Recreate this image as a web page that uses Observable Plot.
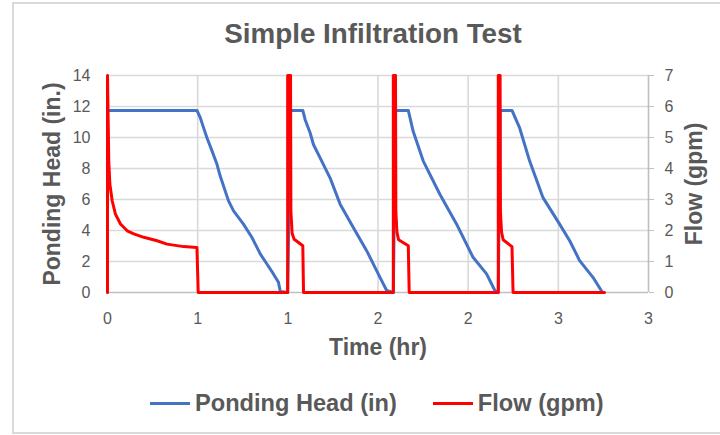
<!DOCTYPE html>
<html>
<head>
<meta charset="utf-8">
<script src="https://cdn.jsdelivr.net/npm/d3@7"></script>
<script src="https://cdn.jsdelivr.net/npm/@observablehq/plot@0.6"></script>
<style>
  html, body { margin: 0; padding: 0; background: #fff; overflow: hidden; }
  #chart { position: relative; width: 720px; height: 435px; overflow: hidden; font-family: "Liberation Sans", Arial, sans-serif; color: #595959; }
  #frame { position: absolute; left: 12px; top: 2px; width: 720px; height: 428px; border: 2px solid #d9d9d9; border-right: none; }
  #title { position: absolute; left: 26px; width: 694px; top: 18px; line-height: 32px; text-align: center; font-size: 27.8px; font-weight: bold; color: #595959; }
  #plot { position: absolute; left: 0; top: 58px; }
  #legend { position: absolute; left: 150px; top: 390px; height: 27px; display: flex; align-items: center; font-size: 23.6px; font-weight: bold; color: #595959; line-height: 27px; white-space: nowrap; }
  .sw { display: inline-block; width: 40px; height: 3px; }
  g[aria-label$="axis label"] text { font-size: 23px; font-weight: bold; fill: #595959; }
</style>
</head>
<body>
<div id="chart">
  <div id="frame"></div>
  <div id="title"></div>
  <div id="plot"></div>
  <div id="legend"></div>
</div>
<script>
// ---- data ----
const chartTitle = "Simple Infiltration Test";
const xLabel = "Time (hr)";
const yLeftLabel = "Ponding Head (in.)";
const yRightLabel = "Flow (gpm)";
const seriesNames = ["Ponding Head (in)", "Flow (gpm)"];
const seriesColors = ["#4472C4", "#FF0000"];

const xTicks = [0, 0.5, 1, 1.5, 2, 2.5, 3];
const xTickLabels = ["0", "1", "1", "2", "2", "3", "3"];
const headTicks = [0, 2, 4, 6, 8, 10, 12, 14];
const flowTicks = [0, 1, 2, 3, 4, 5, 6, 7];

const headTime = [
  0, 0.496, 0.515, 0.533, 0.552, 0.580, 0.607, 0.625, 0.671, 0.699, 0.754, 0.801, 0.847, 0.884, 0.920, 0.948, 0.958, 0.999,
  1.015, 1.083, 1.096, 1.124, 1.142, 1.179, 1.234, 1.290, 1.363, 1.437, 1.511, 1.548, 1.585,
  1.597, 1.668, 1.695, 1.751, 1.843, 1.936, 2.027, 2.102, 2.148, 2.167,
  2.177, 2.243, 2.286, 2.341, 2.415, 2.507, 2.563, 2.618, 2.692, 2.738, 2.745
];
const headValue = [
  11.75, 11.75, 11.26, 10.62, 9.97, 9.12, 8.27, 7.51, 5.91, 5.27, 4.41, 3.55, 2.49, 1.84, 1.20, 0.66, 0.06, 0,
  11.75, 11.75, 11.15, 10.29, 9.55, 8.69, 7.40, 5.70, 4.19, 2.70, 0.98, 0.13, 0,
  11.75, 11.75, 10.40, 8.48, 6.34, 4.41, 2.27, 1.20, 0.13, 0,
  11.75, 11.75, 10.60, 8.48, 6.12, 4.41, 3.34, 2.06, 0.98, 0.13, 0
];

const flowTime = [
  0, 0, 0.007, 0.013, 0.026, 0.044, 0.072, 0.109, 0.146, 0.201, 0.275, 0.330, 0.422, 0.496, 0.503, 0.999,
  0.999, 1.015, 1.017, 1.024, 1.035, 1.083, 1.087, 1.585,
  1.585, 1.597, 1.599, 1.605, 1.614, 1.668, 1.673, 2.167,
  2.167, 2.177, 2.179, 2.185, 2.194, 2.243, 2.249, 2.756
];
const flowValue = [
  0, 7, 4.25, 3.50, 2.96, 2.53, 2.21, 1.99, 1.89, 1.78, 1.67, 1.56, 1.48, 1.45, 0, 0,
  7, 7, 2.6, 1.9, 1.72, 1.51, 0, 0,
  7, 7, 2.6, 1.95, 1.70, 1.51, 0, 0,
  7, 7, 2.6, 1.95, 1.70, 1.48, 0, 0
];

// ---- build ----
const head = headTime.map((t, i) => ({t, v: headValue[i]}));
const flow = flowTime.map((t, i) => ({t, v: flowValue[i]}));
const flowToHead = 14 / 7;

document.getElementById("title").textContent = chartTitle;

const plot = Plot.plot({
  width: 720,
  height: 312,
  marginLeft: 107,
  marginRight: 72,
  marginTop: 17,
  marginBottom: 78,
  style: {fontFamily: "'Liberation Sans', Arial, sans-serif", fontSize: "16px", color: "#595959", background: "transparent", overflow: "visible"},
  x: {domain: [0, 3]},
  y: {domain: [0, 14]},
  marks: [
    Plot.gridY(headTicks.filter(v => v > 0), {stroke: "#d9d9d9", strokeOpacity: 1, strokeWidth: 1.6}),
    Plot.gridX(xTicks.filter(v => v > 0 && v < 3), {stroke: "#d9d9d9", strokeOpacity: 1, strokeWidth: 1.6}),
    Plot.ruleY([0], {stroke: "#bfbfbf", strokeWidth: 1.6}),
    Plot.ruleX([3], {stroke: "#bfbfbf", strokeWidth: 1.6}),
    Plot.axisY(headTicks, {anchor: "left", tickSize: 0, tickPadding: 17, fill: "#595959",
      label: yLeftLabel, labelAnchor: "center", labelOffset: 64, labelArrow: "none"}),
    Plot.axisY(flowTicks.map(v => v * flowToHead), {anchor: "right", tickSize: 5, tickPadding: 11, stroke: "#bfbfbf", fill: "#595959",
      tickFormat: v => String(v / flowToHead),
      label: yRightLabel, labelAnchor: "center", labelOffset: 53, labelArrow: "none"}),
    Plot.axisX(xTicks, {tickSize: 0, tickPadding: 20, fill: "#595959",
      tickFormat: d => xTickLabels[xTicks.indexOf(d)],
      label: xLabel, labelAnchor: "center", labelOffset: 62, labelArrow: "none"}),
    Plot.line(head, {x: "t", y: "v", stroke: seriesColors[0], strokeWidth: 3}),
    Plot.line(flow, {x: "t", y: d => d.v * flowToHead, stroke: seriesColors[1], strokeWidth: 3})
  ]
});
document.getElementById("plot").appendChild(plot);

const legend = document.getElementById("legend");
seriesNames.forEach((name, i) => {
  const sw = document.createElement("span");
  sw.className = "sw";
  sw.style.background = seriesColors[i];
  sw.style.marginLeft = i === 0 ? "0px" : "36px";
  sw.style.marginRight = "5px";
  const tx = document.createElement("span");
  tx.textContent = name;
  legend.appendChild(sw);
  legend.appendChild(tx);
});
</script>
</body>
</html>
